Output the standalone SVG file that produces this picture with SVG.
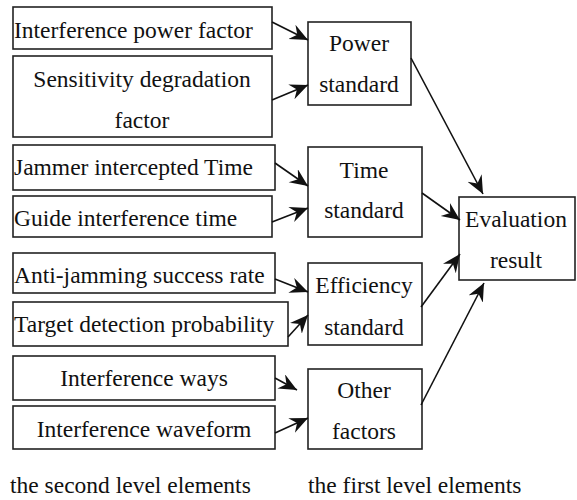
<svg xmlns="http://www.w3.org/2000/svg" width="577" height="500" viewBox="0 0 577 500">
<style>
rect{fill:#fff;stroke:#222;stroke-width:1.6}
text{font-family:'Liberation Serif','DejaVu Serif','Times New Roman',serif;font-size:23.5px;fill:#111}
.m{text-anchor:middle}
.c{stroke:#111;stroke-width:1.6;fill:none;marker-end:url(#ah)}
</style>
<defs>
<marker id="ah" markerUnits="userSpaceOnUse" markerWidth="20" markerHeight="18" refX="18" refY="8" orient="auto">
<path d="M0,0 L18,8 L0,16 L6,8 z" fill="#111"/>
</marker>
</defs>
<rect x="0" y="0" width="577" height="500" style="fill:#fff;stroke:none"/>
<g id="n1"><rect x="13" y="7" width="259" height="42"/><text font-family="Liberation Serif, serif" x="14" y="38">Interference power factor</text></g>
<g id="n2"><rect x="13" y="56" width="259" height="81"/><text class="m" x="142" y="87">Sensitivity degradation</text><text class="m" x="142" y="128">factor</text></g>
<g id="n3"><rect x="13" y="145" width="262" height="45"/><text x="14" y="175">Jammer intercepted Time</text></g>
<g id="n4"><rect x="13" y="196" width="259" height="41"/><text x="14" y="226">Guide interference time</text></g>
<g id="n5"><rect x="13" y="253" width="262" height="40"/><text x="14" y="283">Anti-jamming success rate</text></g>
<g id="n6"><rect x="13" y="302" width="275" height="44"/><text x="14" y="332">Target detection probability</text></g>
<g id="n7"><rect x="13" y="356" width="262" height="44"/><text class="m" x="144" y="386">Interference ways</text></g>
<g id="n8"><rect x="13" y="406" width="262" height="43"/><text class="m" x="144" y="437">Interference waveform</text></g>
<g id="p1"><rect x="308" y="22" width="103" height="83"/><text class="m" x="359" y="51">Power</text><text class="m" x="359" y="92">standard</text></g>
<g id="p2"><rect x="308" y="147" width="114" height="90"/><text class="m" x="364" y="178">Time</text><text class="m" x="364" y="218">standard</text></g>
<g id="p3"><rect x="308" y="263" width="114" height="82"/><text class="m" x="364" y="293">Efficiency</text><text class="m" x="364" y="335">standard</text></g>
<g id="p4"><rect x="308" y="369" width="114" height="80"/><text class="m" x="364" y="398">Other</text><text class="m" x="364" y="439">factors</text></g>
<g id="ev"><rect x="459" y="197" width="116" height="83"/><text class="m" x="516" y="227">Evaluation</text><text class="m" x="516" y="268">result</text></g>
<g id="connectors">
<line class="c" x1="272" y1="22" x2="308" y2="40"/>
<line class="c" x1="272" y1="100" x2="308" y2="85"/>
<line class="c" x1="275" y1="163" x2="308" y2="186"/>
<line class="c" x1="272" y1="222" x2="308" y2="208"/>
<line class="c" x1="275" y1="279" x2="308" y2="292"/>
<line class="c" x1="288" y1="337" x2="308" y2="315"/>
<line class="c" x1="275" y1="378" x2="297" y2="390"/>
<line class="c" x1="275" y1="433" x2="308" y2="418"/>
<line class="c" x1="411" y1="58" x2="483" y2="194"/>
<line class="c" x1="422" y1="193" x2="460" y2="220"/>
<line class="c" x1="421" y1="307" x2="460" y2="254"/>
<line class="c" x1="421" y1="405" x2="484" y2="283"/>
</g>
<g id="labels">
<text x="10" y="493">the second level elements</text>
<text x="308" y="493">the first level elements</text>
</g>
</svg>
